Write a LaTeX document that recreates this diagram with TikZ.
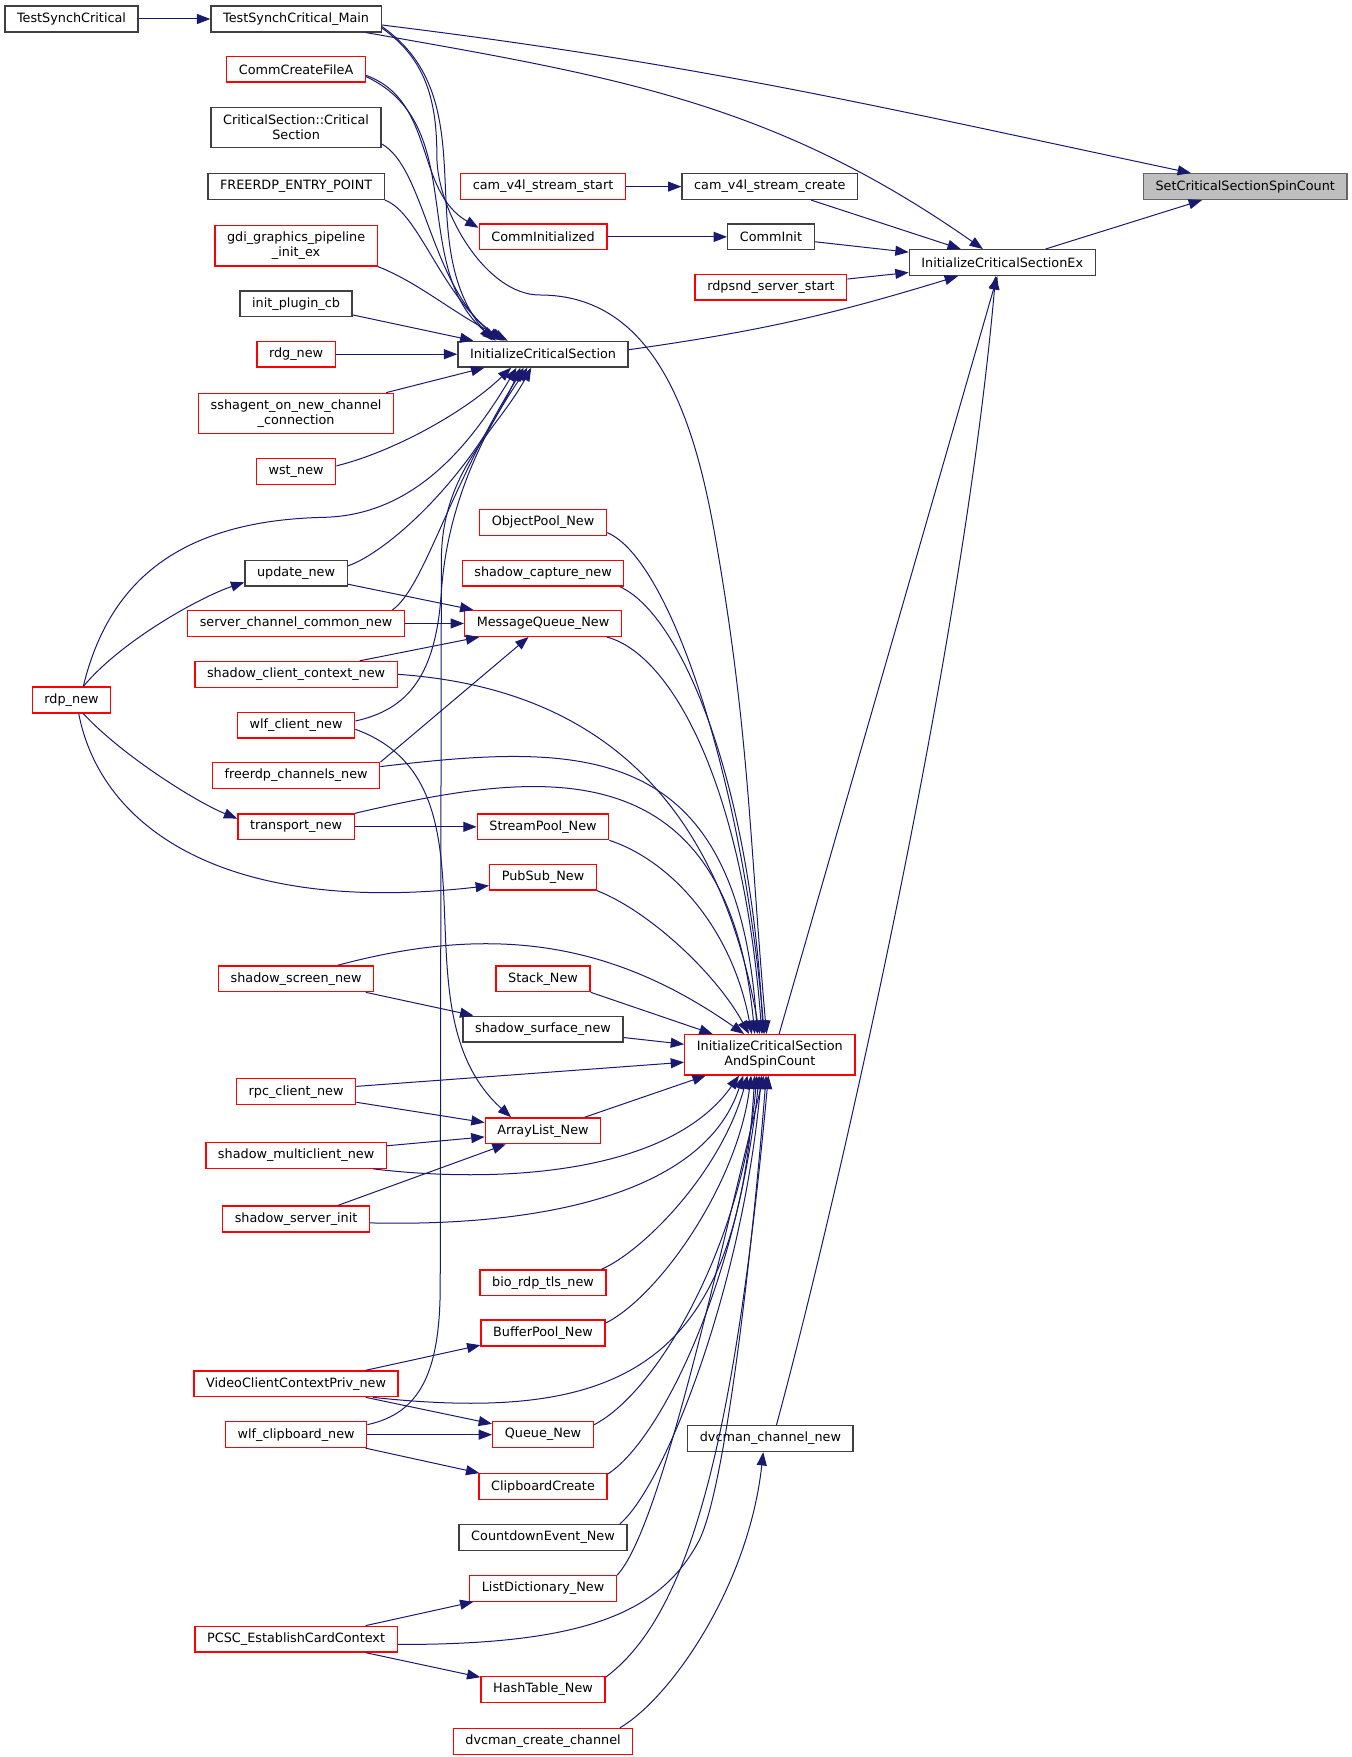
\documentclass[tikz,border=0pt]{standalone}
\usepackage{fontspec}
\setmainfont{DejaVu Sans}
\usetikzlibrary{arrows.meta}
\definecolor{edgeblue}{HTML}{191970}
\definecolor{boxred}{HTML}{FF0000}
\definecolor{boxgrey}{HTML}{404040}
\definecolor{fillgrey}{HTML}{BFBFBF}

\begin{document}
\begin{tikzpicture}[x=0.8378pt,y=0.8378pt,font=\fontsize{9.6}{11.5}\selectfont,
	fn/.style={draw=boxgrey,line width=1pt,rectangle,align=center,inner xsep=9.1pt,inner ysep=4.5pt,minimum height=19.3pt},
	fr/.style={fn,draw=boxred},
	fg/.style={fn,draw=black!60,fill=fillgrey},
	calls/.style={draw=edgeblue,line width=0.75pt,-{Triangle[length=10pt,width=7.5pt]}}]
		\useasboundingbox (0,0) rectangle (1210,-1572.5);
		% callers, left columns
		\path (64,-17) node(tsc)[fn] {TestSynchCritical}
		(64,-626.5) node(rdp)[fr] {rdp\_new}
		(265,-17) node(tscm)[fn] {TestSynchCritical\_Main}
		(265,-62) node(ccfa)[fr] {CommCreateFileA}
		(265,-114) node(cscs)[fn,minimum height=30.2pt] {CriticalSection::Critical\\Section}
		(265,-167) node(entry)[fn] {FREERDP\_ENTRY\_POINT}
		(265,-220) node(gdi)[fr,minimum height=30.2pt] {gdi\_graphics\_pipeline\\\_init\_ex}
		(265,-272) node(ipcb)[fn] {init\_plugin\_cb}
		(265,-317) node(rdg)[fr] {rdg\_new}
		(265,-370) node(ssh)[fr,minimum height=30.2pt] {sshagent\_on\_new\_channel\\\_connection}
		(265,-422) node(wst)[fr] {wst\_new}
		(265,-513) node(upd)[fn] {update\_new}
		(265,-558) node(sccn)[fr] {server\_channel\_common\_new}
		(265,-603.5) node(sccx)[fr] {shadow\_client\_context\_new}
		(265,-649) node(wlfc)[fr] {wlf\_client\_new}
		(265,-694) node(fchn)[fr] {freerdp\_channels\_new}
		(265,-740) node(trn)[fr] {transport\_new}
		(265,-876) node(scrn)[fr] {shadow\_screen\_new}
		(265,-977) node(rpc)[fr] {rpc\_client\_new}
		(265,-1034) node(smc)[fr] {shadow\_multiclient\_new}
		(265,-1091) node(ssi)[fr] {shadow\_server\_init}
		(265,-1238.5) node(vccp)[fr] {VideoClientContextPriv\_new}
		(265,-1284) node(wlfcb)[fr] {wlf\_clipboard\_new}
		(265,-1467) node(pcsc)[fr] {PCSC\_EstablishCardContext};
		% middle column
		\path (486,-167) node(cvss)[fr] {cam\_v4l\_stream\_start}
		(486,-212) node(cinit)[fr] {CommInitialized}
		(486,-317) node(ics)[fn] {InitializeCriticalSection}
		(486,-467.6) node(opn)[fr] {ObjectPool\_New}
		(486,-513) node(scap)[fr] {shadow\_capture\_new}
		(486,-558) node(mqn)[fr] {MessageQueue\_New}
		(486,-740) node(spn)[fr] {StreamPool\_New}
		(486,-785) node(psn)[fr] {PubSub\_New}
		(486,-876) node(stk)[fr] {Stack\_New}
		(486,-921) node(ssurf)[fn] {shadow\_surface\_new}
		(486,-1012) node(aln)[fr] {ArrayList\_New}
		(486,-1148) node(bio)[fr] {bio\_rdp\_tls\_new}
		(486,-1193) node(bpn)[fr] {BufferPool\_New}
		(486,-1284) node(qn)[fr] {Queue\_New}
		(486,-1330.5) node(clip)[fr] {ClipboardCreate}
		(486,-1376) node(cdn)[fn] {CountdownEvent\_New}
		(486,-1421.5) node(ldn)[fr] {ListDictionary\_New}
		(486,-1512) node(htn)[fr] {HashTable\_New}
		(486,-1558.5) node(dcc)[fr] {dvcman\_create\_channel};
		% right columns
		\path (689,-167) node(cvsc)[fn] {cam\_v4l\_stream\_create}
		(690,-212) node(cini)[fn] {CommInit}
		(690,-257) node(rss)[fr] {rdpsnd\_server\_start}
		(689,-944) node(iscasc)[fr,minimum height=30.2pt] {InitializeCriticalSection\\AndSpinCount}
		(689.5,-1287.5) node(dcn)[fn] {dvcman\_channel\_new}
		(897,-235) node(iscex)[fn] {InitializeCriticalSectionEx}
		(1114.5,-167) node(scss)[fg] {SetCriticalSectionSpinCount};

		% top part
		\draw[calls] (tsc)--(tscm);
		\draw[calls] (tscm.-4) to[out=-7,in=168] (scss.166);
		\draw[calls] (tscm.-11.5) to[out=-10,in=145] (iscex.145);
		\draw[calls] (tscm.-5) to[out=-35,in=130] (ics.165.7);
		\draw[calls] (tscm.-6) to[out=-35,in=90] (391,-140) to[out=-90,in=180,looseness=0.8] (483,-264) to[out=0,in=100] (640,-480) to[out=-80,in=95] (iscasc.99.5);
		\draw[calls] (ccfa.-5) to[out=-20,in=150] (cinit.172);
		\draw[calls] (ccfa.-6) to[out=-25,in=140] (ics.164);
		\draw[calls] (cscs.-11) .. controls (380,-150) and (385,-255) .. (ics.162);
		\draw[calls] (entry.south east) .. controls (375,-190) and (395,-265) .. (ics.161);
		\draw[calls] (gdi.south east) .. controls (375,-253) and (405,-280) .. (ics.159);
		\draw[calls] (ipcb.-11)--(ics.169);
		\draw[calls] (rdg)--(ics);
		\draw[calls] (ssh.13)--(ics.193);
		\draw[calls] (wst.8) .. controls (350,-405) and (415,-370) .. (ics.203);
		\draw[calls] (cvss)--(cvsc);
		\draw[calls] (cinit)--(cini);
		\draw[calls] (cvsc)--(iscex);
		\draw[calls] (cini)--(iscex);
		\draw[calls] (rss)--(iscex);
		\draw[calls] (ics.3) to[out=8,in=-163] (iscex.197);
		\draw[calls] (iscex)--(scss);
		\draw[calls] (iscasc.66)--(iscex.250);
		\draw[calls] (dcn.66) .. controls (740,-1110) and (860,-600) .. (iscex.244);
		\draw[calls] (dcc.10.5) .. controls (600,-1520) and (670,-1420) .. (dcn.242);

		% rdp_new and friends
		\draw[calls] (rdp.49) .. controls (95,-530) and (150,-466) .. (290,-463) .. controls (370,-461) and (420,-400) .. (ics.207);
		\draw[calls] (rdp.49) .. controls (109,-573) and (180,-534) .. (upd.190);
		\draw[calls] (rdp.-49) .. controls (109,-676) and (176,-718) .. (trn.172);
		\draw[calls] (rdp.-62) .. controls (90,-740) and (200,-820) .. (psn.189.5);
		\draw[calls] (upd.8) .. controls (345,-495) and (420,-430) .. (ics.211);
		\draw[calls] (sccn.8) .. controls (380,-525) and (400,-440) .. (ics.215);
		\draw[calls] (wlfc.4) .. controls (365,-635) and (390,-605) .. (395,-530) .. controls (400,-455) and (430,-390) .. (ics.221);
		\draw[calls] (wlfcb.8) .. controls (375,-1265) and (394,-1230) .. (394,-1150) -- (395,-500) .. controls (396,-420) and (445,-385) .. (ics.229);
		\draw[calls] (upd.-12)--(mqn.169);
		\draw[calls] (sccn)--(mqn);
		\draw[calls] (sccx.12)--(mqn.192);
		\draw[calls] (fchn.9)--(mqn.223);
		\draw[calls] (trn)--(spn);
		\draw[calls] (wlfc.-4) to[out=-20,in=138] (aln.157);

		% into InitializeCriticalSectionAndSpinCount from above
		\draw[calls] (opn.-9) .. controls (600,-500) and (665,-700) .. (iscasc.105.5);
		\draw[calls] (scap.-10) .. controls (610,-550) and (672,-700) .. (iscasc.108.4);
		\draw[calls] (mqn.-12.3) .. controls (600,-585) and (665,-700) .. (iscasc.111);
		\draw[calls] (sccx.0) .. controls (520,-615) and (640,-700) .. (iscasc.116.6);
		\draw[calls] (fchn.6.5) .. controls (520,-665) and (660,-660) .. (iscasc.121);
		\draw[calls] (trn.north east) .. controls (480,-690) and (650,-665) .. (iscasc.126);
		\draw[calls] (spn.south east) .. controls (600,-770) and (655,-830) .. (iscasc.131.6);
		\draw[calls] (psn.south east) .. controls (580,-815) and (640,-870) .. (iscasc.135);
		\draw[calls] (scrn.18) to[out=15,in=145] (iscasc.141);
		\draw[calls] (scrn.-11)--(ssurf.169);
		\draw[calls] (stk.south east)--(iscasc.160);
		\draw[calls] (ssurf.-6)--(iscasc.173);
		\draw[calls] (rpc.5)--(iscasc.185);

		% ArrayList_New and the lower part
		\draw[calls] (rpc.-10)--(aln.172);
		\draw[calls] (smc.6)--(aln.186);
		\draw[calls] (ssi.18.5)--(aln.200);
		\draw[calls] (aln.18)--(iscasc.198);
		\draw[calls] (smc.-10) .. controls (450,-1060) and (600,-1050) .. (iscasc.214.7);
		\draw[calls] (ssi.-3) .. controls (480,-1098) and (630,-1070) .. (iscasc.218);
		\draw[calls] (bio.13) .. controls (575,-1120) and (645,-1050) .. (iscasc.223.5);
		\draw[calls] (bpn.9) .. controls (590,-1160) and (660,-1060) .. (iscasc.228.4);
		\draw[calls] (vccp.-10) .. controls (560,-1275) and (660,-1220) .. (iscasc.234.2);
		\draw[calls] (qn.11) .. controls (590,-1245) and (665,-1110) .. (iscasc.238.6);
		\draw[calls] (clip.11) .. controls (590,-1290) and (660,-1150) .. (iscasc.243.4);
		\draw[calls] (cdn.10) .. controls (595,-1330) and (665,-1150) .. (iscasc.248.7);
		\draw[calls] (ldn.10) .. controls (590,-1370) and (640,-1140) .. (iscasc.254.5);
		\draw[calls] (pcsc.-3) .. controls (520,-1472) and (590,-1445) .. (625,-1380) .. controls (650,-1334) and (675,-1100) .. (iscasc.260.5);
		\draw[calls] (htn.11) .. controls (610,-1450) and (655,-1320) .. (iscasc.266.8);
		\draw[calls] (vccp.11)--(bpn.191);
		\draw[calls] (vccp.-11)--(qn.168);
		\draw[calls] (wlfcb)--(qn);
		\draw[calls] (wlfcb.-11.3)--(clip.168);
		\draw[calls] (pcsc.11.3)--(ldn.191);
		\draw[calls] (pcsc.-11.3)--(htn.169);
	\end{tikzpicture}
\end{document}
